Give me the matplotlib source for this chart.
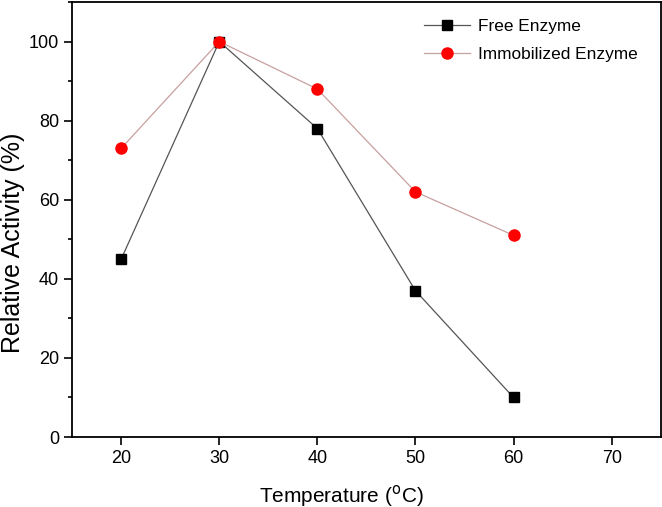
import matplotlib.pyplot as plt
from matplotlib.ticker import MultipleLocator

plt.rcParams['font.family'] = ['Liberation Sans', 'DejaVu Sans']

temperature = [20, 30, 40, 50, 60]
free_enzyme = [45, 100, 78, 37, 10]
immobilized_enzyme = [73, 100, 88, 62, 51]

fig = plt.figure(figsize=(6.62, 5.07), dpi=100)
ax = fig.add_axes([0.109, 0.138, 0.889, 0.858])

ax.plot(temperature, free_enzyme, color='#555555', lw=0.9, marker='s', ms=7,
        mfc='black', mec='black', label='Free Enzyme')
ax.plot(temperature, immobilized_enzyme, color='#c8a0a0', lw=0.9, marker='o', ms=8,
        mfc='red', mec='red', label='Immobilized Enzyme')

ax.set_xlim(15, 75)
ax.set_ylim(0, 110)
ax.xaxis.set_major_locator(MultipleLocator(10))
ax.yaxis.set_major_locator(MultipleLocator(20))
ax.yaxis.set_minor_locator(MultipleLocator(10))
ax.tick_params(axis='both', which='major', direction='out', length=6, width=1.2, labelsize=13)
ax.tick_params(axis='y', which='minor', direction='out', length=3, width=1.2)
for s in ax.spines.values():
    s.set_linewidth(1.3)

ax.set_xlabel('Temperature ($^{\\mathrm{o}}$C)', fontsize=15, labelpad=11)
ax.xaxis.label.set_x(0.457)
ax.set_ylabel('Relative Activity (%)', fontsize=18)
ax.yaxis.set_label_coords(-0.080, 0.446)

ax.legend(loc='upper right', frameon=False, fontsize=12.4, bbox_to_anchor=(0.973, 0.976),
          handlelength=2.67, handletextpad=0.47, labelspacing=0.74, borderaxespad=0)

plt.savefig('out.png', dpi=100)
